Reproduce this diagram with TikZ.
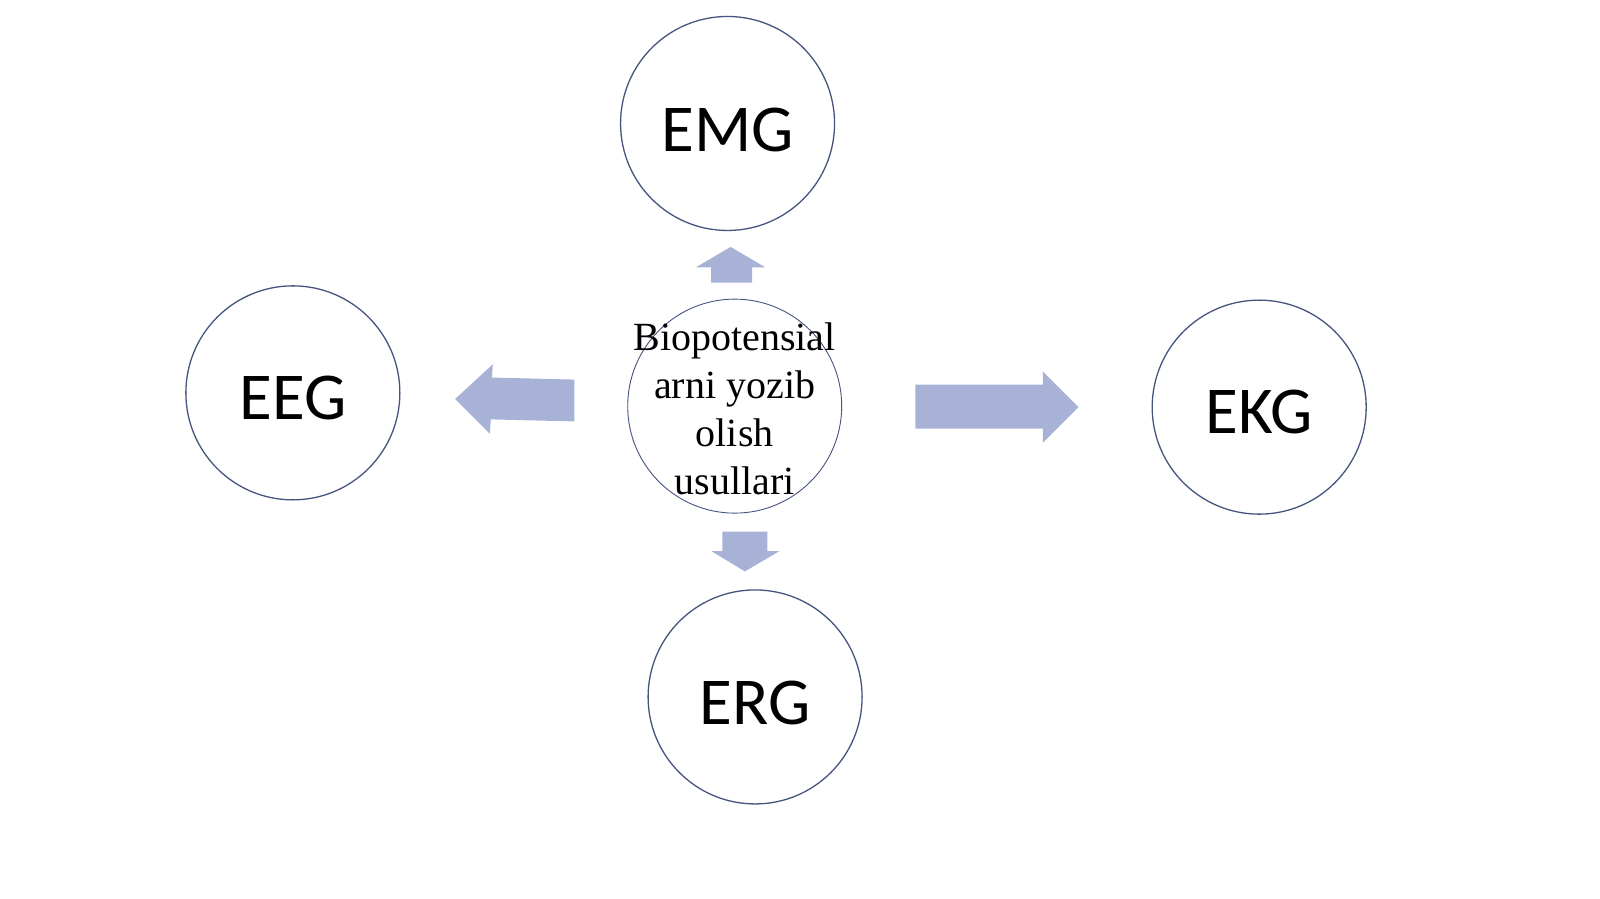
\documentclass[tikz,border=0pt]{standalone}
\usepackage{fontspec}
\setmainfont{Liberation Serif}
\newfontfamily\labfont{Carlito}
\definecolor{ringcol}{RGB}{70,84,128}
\definecolor{arrowcol}{RGB}{168,178,214}
\begin{document}
\begin{tikzpicture}[x=1.0204pt,y=-1.0204pt,
  ring/.style={circle,draw=ringcol,line width=1.3pt,minimum size=214pt,inner sep=0pt,fill=white},
  lab/.style={font=\labfont\fontsize{67}{71}\selectfont,text=black},
  blockarrow/.style={fill=arrowcol,draw=none}]
\useasboundingbox (0,0) rectangle (1568,881);
\fill[white] (0,0) rectangle (1568,881);
% outer circles
\node[ring] (emg) at (713,121) {};
\node[ring] (eeg) at (287,385) {};
\node[ring] (ekg) at (1234,399) {};
\node[ring] (erg) at (740,683) {};
\node[lab] (temg) at (713,127) {EMG};
\node[lab] (teeg) at (287,390) {EEG};
\node[lab] (tekg) at (1234,404) {EKG};
\node[lab] (terg) at (740,689) {ERG};
% center
\node[circle,draw=ringcol,line width=0.9pt,minimum size=214pt,inner sep=0pt] (center) at (720,398) {};
\node[align=center,font=\fontsize{40}{48}\selectfont] (ctext) at (720,401) {Biopotensial\\arni yozib\\olish\\usullari};
% block arrows
\fill[blockarrow] (697,277) -- (697,262) -- (682,262) -- (716,242) -- (750,262) -- (737,262) -- (737,277) -- cycle;
\fill[blockarrow] (563,372) -- (482,370) -- (483,357) -- (446,391) -- (480,425) -- (481,411) -- (563,413) -- cycle;
\fill[blockarrow] (897,377) -- (1022,377) -- (1022,364) -- (1057,399) -- (1022,434) -- (1022,420) -- (897,420) -- cycle;
\fill[blockarrow] (708,521) -- (752,521) -- (752,540) -- (764,540) -- (730,560) -- (697,540) -- (708,540) -- cycle;
\end{tikzpicture}
\end{document}
